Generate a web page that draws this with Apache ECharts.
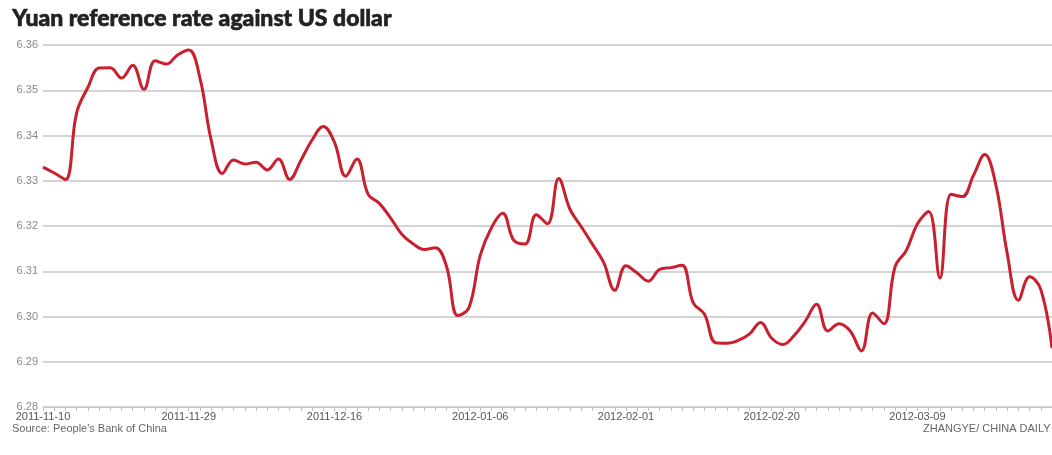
<!DOCTYPE html>
<html>
<head>
<meta charset="utf-8">
<title>Yuan reference rate against US dollar</title>
<script src="https://cdn.jsdelivr.net/npm/echarts@6/dist/echarts.min.js"></script>
<style>
    html, body { margin: 0; padding: 0; background: #fff; }
    #main { width: 1052px; height: 455px; }
</style>
</head>
<body>
<div id="main"></div>
<script>
    // daily central parity
    var rates = [
        6.3330, 6.3317, 6.3303, 6.3450, 6.3506, 6.3549, 6.3550, 6.3527, 6.3555, 6.3502,
        6.3565, 6.3558, 6.3578, 6.3589, 6.3527, 6.3390, 6.3316, 6.3346, 6.3337, 6.3341,
        6.3324, 6.3348, 6.3303, 6.3345, 6.3390, 6.3420, 6.3385, 6.3310, 6.3348, 6.3270,
        6.3250, 6.3218, 6.3182, 6.3161, 6.3148, 6.3152, 6.3110, 6.3002, 6.3020, 6.3135,
        6.3196, 6.3228, 6.3168, 6.3160, 6.3225, 6.3205, 6.3305, 6.3237, 6.3199, 6.3160,
        6.3120, 6.3058, 6.3112, 6.3096, 6.3078, 6.3104, 6.3108, 6.3113, 6.3030, 6.3005,
        6.2942, 6.2941, 6.2947, 6.2961, 6.2987, 6.2952, 6.2938, 6.2958, 6.2990, 6.3027,
        6.2968, 6.2984, 6.2968, 6.2924, 6.3008, 6.2984, 6.3110, 6.3146, 6.3205, 6.3232,
        6.3085, 6.3270, 6.3265, 6.3312, 6.3358, 6.3290, 6.3140, 6.3036, 6.3088, 6.3060,
        6.2930
    ];
    var tickDates = ['2011-11-10', '2011-11-29', '2011-12-16', '2012-01-06', '2012-02-01', '2012-02-20', '2012-03-09'];
    var labelEvery = 13;
    var days = rates.map(function (v, i) { return i; });

    var myChart = echarts.init(document.getElementById('main'));
    var option = {
        backgroundColor: '#fff',
        animation: false,
        grid: {
            left: 43,
            right: 0,
            top: 45,
            bottom: 48
        },
        graphic: [
            {
                type: 'text',
                left: 12,
                top: 7,
                style: {
                    text: 'Yuan reference rate against US dollar',
                    font: '900 23px Lato, "Open Sans", sans-serif',
                    fill: '#222',
                    stroke: '#222',
                    lineWidth: 0.6
                }
            },
            {
                type: 'text',
                left: 12,
                top: 423,
                style: {
                    text: "Source: People's Bank of China",
                    font: '11px "Liberation Sans Narrow", "Liberation Sans", sans-serif',
                    fill: '#666'
                }
            },
            {
                type: 'text',
                left: 923,
                top: 423,
                style: {
                    text: 'ZHANGYE/ CHINA DAILY',
                    font: '11px "Liberation Sans Narrow", "Liberation Sans", sans-serif',
                    fill: '#666'
                }
            }
        ],
        xAxis: {
            type: 'category',
            boundaryGap: false,
            data: days,
            axisLine: {
                lineStyle: { color: '#c8c8c8', width: 1 }
            },
            axisTick: {
                show: true,
                interval: 0,
                length: 4,
                lineStyle: { color: '#c0c0c0' }
            },
            axisLabel: {
                interval: function (index) { return index % labelEvery === 0 && tickDates[index / labelEvery] !== undefined; },
                formatter: function (v, i) { return tickDates[i / labelEvery] || ''; },
                color: '#555',
                fontSize: 11,
                fontFamily: '"Liberation Sans", sans-serif',
                margin: 4
            },
            splitLine: { show: false }
        },
        yAxis: {
            type: 'value',
            min: 6.28,
            max: 6.36,
            interval: 0.01,
            axisLine: { show: false },
            axisTick: { show: false },
            axisLabel: {
                formatter: function (v) { return v.toFixed(2); },
                color: '#888',
                fontSize: 11,
                fontFamily: '"Liberation Sans", sans-serif',
                margin: 5
            },
            splitLine: {
                lineStyle: { color: '#c6c6c6', width: 1.5 }
            }
        },
        series: [
            {
                name: 'Yuan',
                type: 'line',
                data: rates,
                smooth: 0.4,
                showSymbol: false,
                lineStyle: {
                    color: '#c8202f',
                    width: 3
                }
            }
        ]
    };
    option && myChart.setOption(option);
</script>
</body>
</html>
